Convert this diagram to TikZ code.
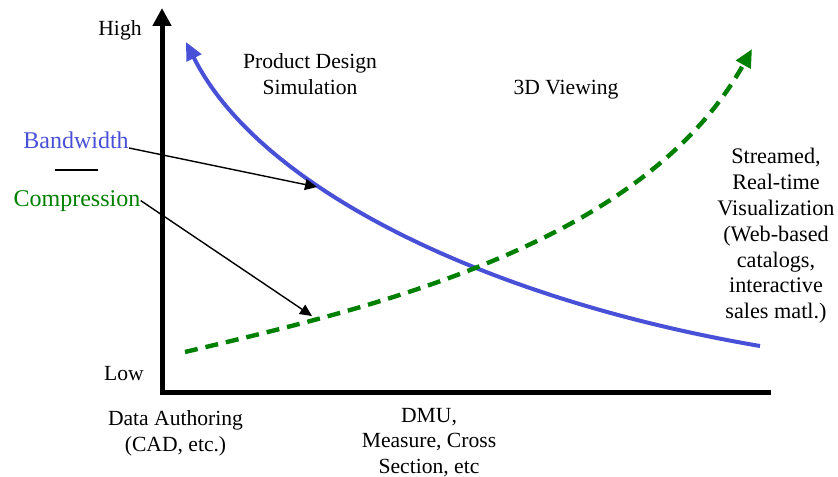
\documentclass[tikz,border=0pt]{standalone}
\usepackage{fontspec}
\setmainfont{Liberation Serif}
\usetikzlibrary{arrows.meta}
\definecolor{bandblue}{RGB}{72,80,216}
\definecolor{compgreen}{RGB}{0,128,0}

\begin{document}
\begin{tikzpicture}[x=0.5pt,y=-0.5pt,
  lbl/.style={inner sep=0pt,font=\fontsize{10.8}{12.75}\selectfont,align=center},
  biglbl/.style={inner sep=0pt,font=\fontsize{12}{14}\selectfont},
  axis/.style={line width=2.5pt,line join=miter,-{Triangle[length=9pt,width=9pt]}},
  pointer/.style={line width=0.7pt,-{Triangle[length=6pt,width=5.5pt]}},
  bandline/.style={bandblue,line width=2pt,{Triangle[length=9pt,width=8pt]}-},
  compline/.style={compgreen,line width=2.2pt,dash pattern=on 6.5pt off 4pt,-{Triangle[length=9pt,width=8pt]}}]
\useasboundingbox (0,0) rectangle (838,476);
\coordinate (origin) at (162,392);
\draw[axis] (771,392) -- (origin) -- (162,8);
\draw[bandline] (186,42) .. controls (260,190) and (490,300) .. (760,346);
\draw[compline] (185,352) .. controls (365,309) and (642,247) .. (752,49);
\node[lbl,anchor=base] (high) at (120,36) {High};
\node[lbl,anchor=base] (low) at (124,380) {Low};
\node[biglbl,anchor=base,text=bandblue] (bw) at (76,148) {Bandwidth};
\node[biglbl,anchor=base,text=compgreen] (cmp) at (77,206) {Compression};
\draw[line width=0.75pt] (55,170) -- (98,170);
\node[lbl,anchor=north] (design) at (310,53.5) {Product Design\\Simulation};
\node[lbl,anchor=base] (viewing) at (566,94) {3D Viewing};
\node[lbl,anchor=north,font=\fontsize{11.1}{12.9}\selectfont] (streamed) at (776,148) {Streamed,\\Real-time\\Visualization\\(Web-based\\catalogs,\\interactive\\sales matl.)};
\node[lbl,anchor=north] (authoring) at (175.5,410.5) {Data Authoring\\(CAD, etc.)};
\node[lbl,anchor=north] (dmu) at (429,407.5) {DMU,\\Measure, Cross\\Section, etc};
\coordinate (bwtip) at (317,187);
\coordinate (cmptip) at (312,316);
\draw[pointer] (bw.base east) -- (bwtip);
\draw[pointer] (cmp.east) -- (cmptip);
\end{tikzpicture}
\end{document}
